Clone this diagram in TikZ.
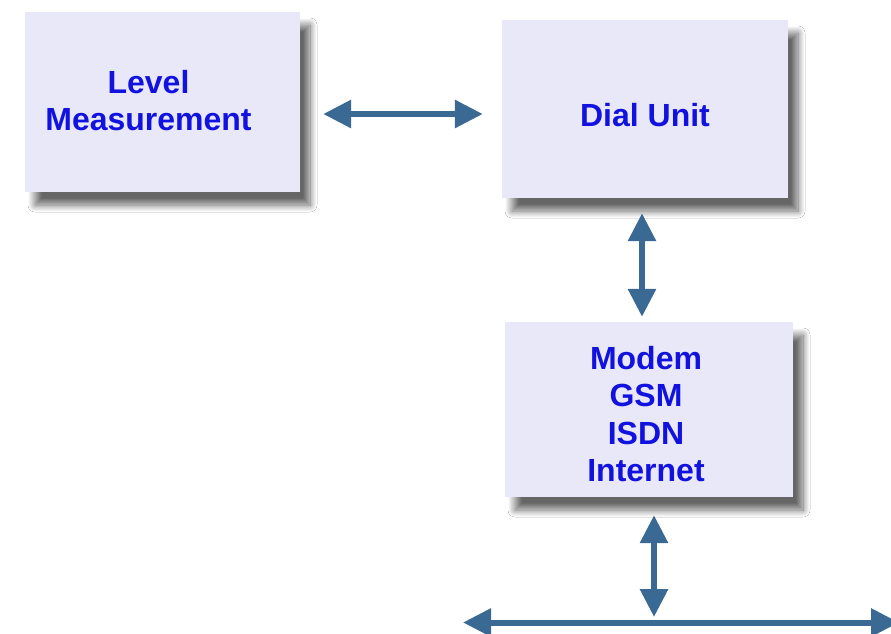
\documentclass[tikz,border=0pt]{standalone}
\usepackage{fontspec}
\setmainfont{Liberation Sans}
\usetikzlibrary{arrows.meta,shadows.blur}
\definecolor{boxfill}{HTML}{E8E8F9}
\definecolor{txtblue}{HTML}{1212E0}
\definecolor{arrblue}{HTML}{3A6A93}
\tikzset{
  box/.style={fill=boxfill, draw=none, align=center, inner sep=0pt,
    font=\fontsize{32}{37.3}\selectfont\bfseries, text=txtblue,
    blur shadow={shadow xshift=10pt, shadow yshift=-13pt, shadow blur radius=7pt, shadow blur steps=14, shadow opacity=60}},
  arr/.style={draw=arrblue, line width=6pt,
    {Triangle[length=28pt,width=27pt]}-{Triangle[length=28pt,width=27pt]}}
}
\begin{document}
\begin{tikzpicture}[x=1pt,y=-1pt]
\path[fill=white] (0,0) rectangle (891,633);
\useasboundingbox (0,0) rectangle (891,633);
\clip (0,0) rectangle (891,633);
\node[box, minimum width=275pt, minimum height=180pt] (lm) at (162.5,102) {\hspace*{-28pt}\raisebox{3pt}{Level}\\\hspace*{-28pt}\raisebox{3pt}{Measurement}};
\node[box, minimum width=286pt, minimum height=178pt] (du) at (645,109) {\rule{0pt}{36pt}Dial Unit};
\node[box, minimum width=288pt, minimum height=175pt] (mo) at (649,409.5) {\hspace*{-6pt}\rule{0pt}{32pt}Modem\\\hspace*{-6pt}GSM\\\hspace*{-6pt}ISDN\\\hspace*{-6pt}Internet};
\coordinate (busL) at (463,622.5);
\coordinate (busR) at (899,622.5);
\coordinate (busT) at (654,622.5);
\draw[arr, shorten <=23pt, shorten >=19pt] ([yshift=-12pt]lm.east) -- ([yshift=-12pt]lm.east -| du.west);
\draw[arr, shorten <=15pt, shorten >=5pt] ([xshift=-3pt]du.south) -- ([xshift=-3pt]du.south |- mo.north);
\draw[arr, shorten <=18pt, shorten >=5.5pt] ([xshift=5pt]mo.south) -- (busT);
\draw[arr] (busL) -- (busR);
\end{tikzpicture}
\end{document}
